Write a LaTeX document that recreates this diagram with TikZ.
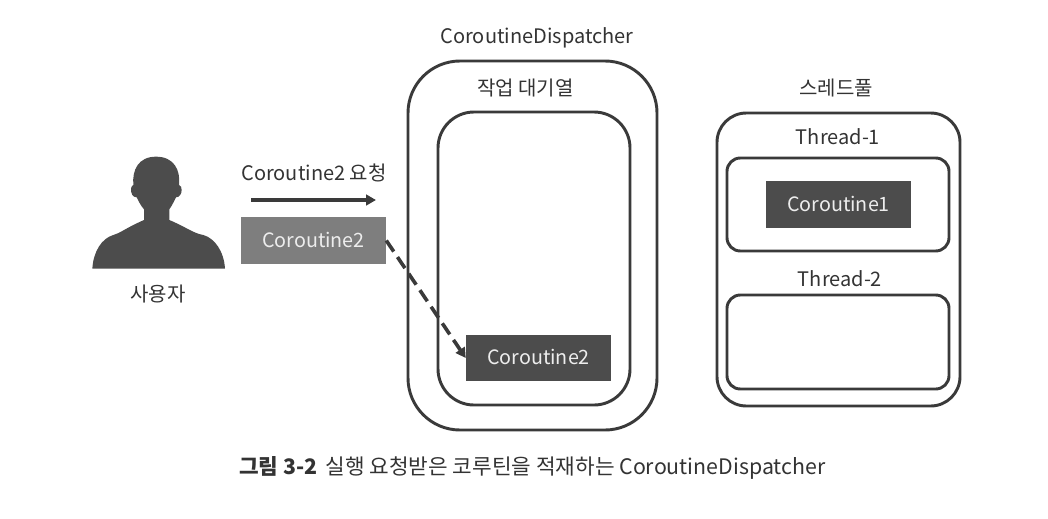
\documentclass[tikz,border=0pt]{standalone}
\usepackage{fontspec}
\setmainfont{Noto Sans CJK KR}
\usetikzlibrary{arrows.meta}
\definecolor{ink}{HTML}{3A3A3A}
\definecolor{darkbox}{HTML}{4C4C4C}
\definecolor{graybox}{HTML}{7E7E7E}
\definecolor{txt}{HTML}{333333}
\newcommand{\cotxt}[1]{\raisebox{1.5pt}{#1}}
\tikzset{
  x=0.75pt,y=-0.75pt,
  frame/.style={draw=ink,line width=2.2pt,fill=none},
  lbl/.style={font=\fontsize{15pt}{17pt}\selectfont,text=txt,inner sep=0pt,anchor=center},
  co/.style={font=\fontsize{14.8pt}{17pt}\selectfont,text=white!93!black,inner sep=0pt,minimum width=108.75pt,minimum height=35pt},
  darkco/.style={co,fill=darkbox},
  grayco/.style={co,fill=graybox},
  flow/.style={draw=ink,line width=2.7pt,-{Triangle[length=7.5pt,width=8pt]}},
  dashflow/.style={flow,dash pattern=on 10pt off 5pt}
}
\begin{document}
\begin{tikzpicture}
\useasboundingbox (0,0) rectangle (1048,518);
\draw[frame,rounded corners=39pt] (408,61) rectangle (657,430);
\draw[frame,rounded corners=27pt] (438,112) rectangle (630,405);
\draw[frame,rounded corners=22pt] (717,113) rectangle (960,406);
\draw[frame,rounded corners=10pt] (727,158) rectangle (949,251);
\draw[frame,rounded corners=10pt] (727,295) rectangle (949,389);
\node[lbl] (dispatcher) at (537,38) {CoroutineDispatcher};
\node[lbl] (queue) at (525.5,88.5) {작업 대기열};
\node[lbl] (pool) at (836,88.5) {스레드풀};
\node[lbl] (t1) at (838,137) {Thread-1};
\node[lbl] (t2) at (840,279) {Thread-2};
\node[lbl] (user) at (158,294.5) {사용자};
\node[lbl] (req) at (314,173) {Coroutine2 요청};
\node[darkco] (c1) at (838.5,204.5) {\cotxt{Coroutine1}};
\node[darkco] (c2q) at (538.5,358) {\cotxt{Coroutine2}};
\node[grayco] (c2) at (313.5,240.5) {\cotxt{Coroutine2}};
\coordinate (arrowA) at (251,200);
\coordinate (arrowB) at (376,200);
\draw[flow] (arrowA) -- (arrowB);
\draw[dashflow] (c2.east) -- (c2q.west);
\fill[darkbox,shift={(70,140)},x=0.25pt,y=-0.25pt]
 (67,386) .. controls (70,335) and (95,295) .. (130,285)
 .. controls (150,280) and (165,265) .. (222,240)
 -- (222,208) .. controls (210,195) and (205,180) .. (200,172)
 .. controls (188,172) and (182,160) .. (183,145)
 .. controls (184,140) and (188,135) .. (190,135)
 .. controls (186,90) and (205,50) .. (258,50)
 .. controls (312,50) and (332,90) .. (327,135)
 .. controls (332,137) and (336,142) .. (335,150)
 .. controls (335,162) and (328,172) .. (318,172)
 .. controls (313,182) and (306,197) .. (298,208)
 -- (298,240) .. controls (350,262) and (370,280) .. (400,285)
 .. controls (435,295) and (462,335) .. (465,386) -- cycle;
\node[font=\fontsize{16pt}{18pt}\selectfont,text=txt,inner sep=0pt,anchor=west] (cap) at (239,468) {\textbf{그림 3-2}\hspace{6pt}실행 요청받은 코루틴을 적재하는 CoroutineDispatcher};
\end{tikzpicture}
\end{document}
